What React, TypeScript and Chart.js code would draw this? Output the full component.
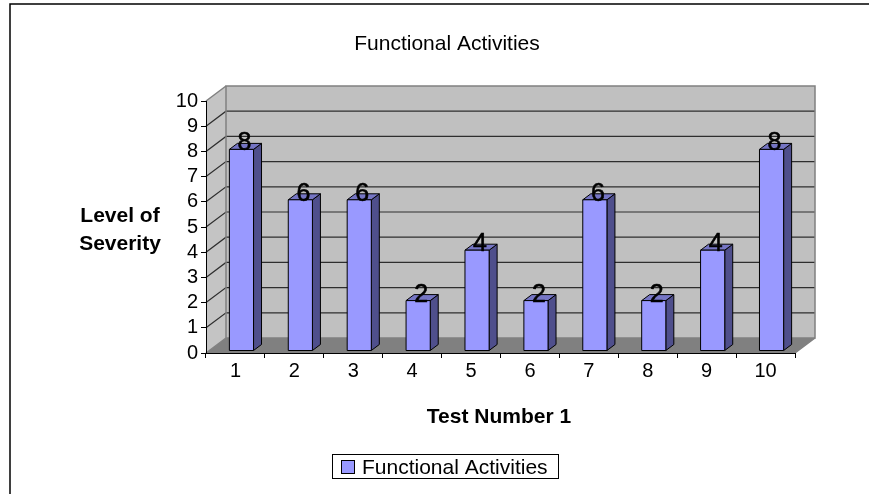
import React, { useEffect, useRef } from "react";
import { Chart, registerables } from "chart.js";

Chart.register(...registerables);

const categories = ["1", "2", "3", "4", "5", "6", "7", "8", "9", "10"];
const severity = [8, 6, 6, 2, 4, 2, 6, 2, 4, 8];
const seriesName = "Functional Activities";
const chartTitle = "Functional Activities";
const yTitleLines = ["Level of", "Severity"];
const xTitle = "Test Number 1";
const yMin = 0;
const yMax = 10;
const yStep = 1;

const FONT = "'Liberation Sans', Arial, sans-serif";
const DEPTH_X = 20;
const DEPTH_Y = -15;
const BAR_OFF_X = 6;
const BAR_OFF_Y = -2;
const BAR_DX = 8;
const BAR_DY = -6;

const threeD = {
  id: "threeD",
  beforeDraw(chart: any) {
    const { ctx, chartArea: a, scales } = chart;
    const ys = scales.y;
    ctx.save();
    // outer frame
    ctx.strokeStyle = "#000";
    ctx.lineWidth = 1.5;
    ctx.beginPath();
    ctx.moveTo(10, 494);
    ctx.lineTo(10, 4);
    ctx.lineTo(869, 4);
    ctx.stroke();

    const L = a.left, R = a.right, T = a.top, B = a.bottom;
    // back wall
    ctx.fillStyle = "#C0C0C0";
    ctx.fillRect(L + DEPTH_X, T + DEPTH_Y, R - L, B - T);
    // left wall
    ctx.beginPath();
    ctx.moveTo(L, T);
    ctx.lineTo(L + DEPTH_X, T + DEPTH_Y);
    ctx.lineTo(L + DEPTH_X, B + DEPTH_Y);
    ctx.lineTo(L, B);
    ctx.closePath();
    ctx.fillStyle = "#C4C4C4";
    ctx.fill();
    // floor
    ctx.beginPath();
    ctx.moveTo(L, B);
    ctx.lineTo(L + DEPTH_X, B + DEPTH_Y);
    ctx.lineTo(R + DEPTH_X, B + DEPTH_Y);
    ctx.lineTo(R, B);
    ctx.closePath();
    ctx.fillStyle = "#808080";
    ctx.fill();

    // gridlines
    ctx.strokeStyle = "#2E2E2E";
    ctx.lineWidth = 1.2;
    for (let v = yMin + yStep; v < yMax; v += yStep) {
      const py = ys.getPixelForValue(v);
      ctx.beginPath();
      ctx.moveTo(L, py);
      ctx.lineTo(L + DEPTH_X, py + DEPTH_Y);
      ctx.lineTo(R + DEPTH_X, py + DEPTH_Y);
      ctx.stroke();
    }
    // wall outlines
    ctx.strokeStyle = "#808080";
    ctx.lineWidth = 1.5;
    ctx.strokeRect(L + DEPTH_X, T + DEPTH_Y, R - L, B - T);
    ctx.beginPath();
    ctx.moveTo(L, T);
    ctx.lineTo(L + DEPTH_X, T + DEPTH_Y);
    ctx.moveTo(L, B);
    ctx.lineTo(L + DEPTH_X, B + DEPTH_Y);
    ctx.moveTo(R, B);
    ctx.lineTo(R + DEPTH_X, B + DEPTH_Y);
    ctx.stroke();
    ctx.restore();
  },
  afterDatasetsDraw(chart: any) {
    const { ctx } = chart;
    const meta = chart.getDatasetMeta(0);
    ctx.save();
    ctx.lineWidth = 1;
    ctx.strokeStyle = "#000";
    ctx.lineJoin = "round";
    const labels: any[] = [];
    meta.data.forEach((bar: any, i: number) => {
      const p = bar.getProps(["x", "y", "base", "width"], true);
      const l = p.x - p.width / 2 + BAR_OFF_X;
      const r = l + p.width;
      const t = p.y + BAR_OFF_Y;
      const b = p.base + BAR_OFF_Y;
      // side
      ctx.beginPath();
      ctx.moveTo(r, t);
      ctx.lineTo(r + BAR_DX, t + BAR_DY);
      ctx.lineTo(r + BAR_DX, b + BAR_DY);
      ctx.lineTo(r, b);
      ctx.closePath();
      ctx.fillStyle = "#4F4F8C";
      ctx.fill();
      ctx.stroke();
      // top
      ctx.beginPath();
      ctx.moveTo(l, t);
      ctx.lineTo(l + BAR_DX, t + BAR_DY);
      ctx.lineTo(r + BAR_DX, t + BAR_DY);
      ctx.lineTo(r, t);
      ctx.closePath();
      ctx.fillStyle = "#7575C4";
      ctx.fill();
      ctx.stroke();
      // front
      ctx.fillStyle = "#9999FF";
      ctx.fillRect(l, t, r - l, b - t);
      ctx.strokeRect(l, t, r - l, b - t);
      labels.push({ x: l + p.width / 2 + 3, y: t + 1, v: severity[i] });
    });
    ctx.fillStyle = "#000";
    ctx.strokeStyle = "#000";
    ctx.lineWidth = 0.6;
    ctx.font = `25px ${FONT}`;
    ctx.textAlign = "center";
    ctx.textBaseline = "alphabetic";
    labels.forEach((lb) => {
      ctx.fillText(String(lb.v), lb.x, lb.y);
      ctx.strokeText(String(lb.v), lb.x, lb.y);
    });
    ctx.restore();
  },
  afterDraw(chart: any) {
    const { ctx } = chart;
    ctx.save();
    ctx.fillStyle = "#000";
    ctx.textAlign = "center";
    ctx.textBaseline = "alphabetic";
    ctx.font = `21px ${FONT}`;
    ctx.fillText(chartTitle, 447, 50);
    ctx.font = `bold 21px ${FONT}`;
    ctx.fillText(yTitleLines[0], 120, 222);
    ctx.fillText(yTitleLines[1], 120, 250);
    ctx.fillText(xTitle, 499, 423);
    // legend
    ctx.lineWidth = 1;
    ctx.strokeStyle = "#000";
    ctx.strokeRect(332.5, 454.5, 226, 24);
    ctx.fillStyle = "#9999FF";
    ctx.fillRect(341.5, 460.5, 13, 13);
    ctx.strokeRect(341.5, 460.5, 13, 13);
    ctx.fillStyle = "#000";
    ctx.textAlign = "left";
    ctx.font = `21px ${FONT}`;
    ctx.fillText(seriesName, 362, 474);
    ctx.restore();
  },
};

export default function App() {
  const ref = useRef<HTMLCanvasElement>(null);
  useEffect(() => {
    document.body.style.margin = "0";
    const canvas = ref.current!;
    const chart = new Chart(canvas, {
      type: "bar",
      data: {
        labels: categories,
        datasets: [
          {
            label: seriesName,
            data: severity,
            backgroundColor: "rgba(0,0,0,0)",
            borderWidth: 0,
            categoryPercentage: 1,
            barPercentage: 0.41,
          },
        ],
      },
      options: {
        responsive: false,
        animation: false,
        devicePixelRatio: 1,
        layout: { padding: { left: 0, top: 101, right: 74, bottom: 0 } },
        plugins: {
          legend: { display: false },
          title: { display: false },
          tooltip: { enabled: false },
        },
        scales: {
          x: {
            grid: {
              offset: true,
              drawOnChartArea: false,
              drawTicks: true,
              tickLength: 5,
              color: "#000",
            },
            border: { display: true, color: "#000", width: 1 },
            ticks: {
              color: "#000",
              font: { family: FONT, size: 20 },
              padding: 1,
              maxRotation: 0,
              autoSkip: false,
            },
            afterFit: (s: any) => {
              s.height = 141;
            },
          },
          y: {
            min: yMin,
            max: yMax,
            grid: {
              drawOnChartArea: false,
              drawTicks: true,
              tickLength: 5,
              color: "#000",
            },
            border: { display: true, color: "#000", width: 1 },
            ticks: {
              stepSize: yStep,
              color: "#000",
              font: { family: FONT, size: 20 },
              padding: 3,
              autoSkip: false,
            },
            afterFit: (s: any) => {
              s.width = 206;
            },
          },
        },
      },
      plugins: [threeD],
    });
    return () => chart.destroy();
  }, []);
  return (
    <canvas
      ref={ref}
      width={869}
      height={494}
      style={{ display: "block", width: 869, height: 494 }}
    />
  );
}
